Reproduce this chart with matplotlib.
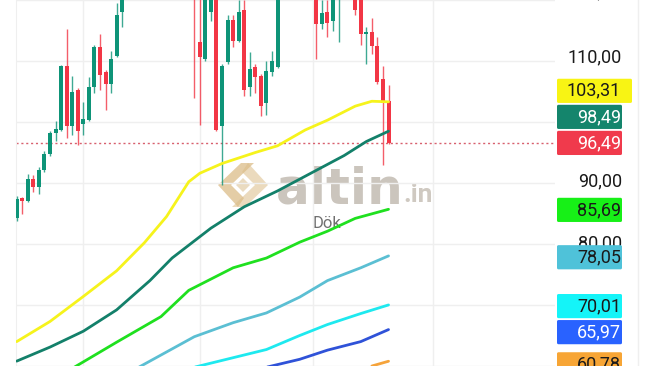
import numpy as np
import matplotlib.pyplot as plt
from matplotlib.patches import FancyBboxPatch, Polygon
from matplotlib.transforms import Affine2D

plt.rcParams['font.family'] = ['Roboto', 'DejaVu Sans']

# daily candles (index 0..67); many highs run off the top
opens = [84.2, 87.6, 87.1, 90.6, 89.4, 92.1, 94.7, 98.2, 98.7, 109.2,
         99.4, 105.3, 99.7, 100.3, 105.8, 112.3, 108.2, 106.3, 110.8, 118.1,
         121.5, 123.4, 125.2, 122.9, 126.8, 128.7, 127.1, 130.3, 128.0, 125.6,
         127.5, 124.4, 125.8, 113.1, 110.3, 118.1, 123.0, 99.4, 109.8, 116.8,
         113.2, 118.4, 105.8, 109.0, 107.6, 103.1, 108.2, 109.0, 121.0, 123.8,
         122.4, 125.5, 124.0, 122.1, 122.0, 116.0, 118.1, 116.5, 120.5, 122.0,
         124.1, 123.0, 121.0, 114.35, 114.8, 112.4, 107.1, 103.5]
highs = [87.8, 87.7, 91.5, 91.3, 92.6, 95.2, 98.5, 100.2, 109.3, 115.3,
         107.6, 105.5, 103.2, 107.4, 112.7, 114.5, 108.5, 111.6, 119.5, 122.5,
         124.2, 126.0, 126.5, 127.3, 129.5, 130.2, 131.0, 131.5, 129.0, 128.4,
         128.2, 126.9, 126.5, 121.0, 122.0, 122.0, 124.0, 109.5, 117.6, 117.6,
         120.0, 120.0, 111.5, 109.5, 107.9, 110.0, 111.6, 122.0, 124.5, 125.6,
         126.1, 127.0, 125.2, 124.3, 123.0, 120.0, 120.0, 122.0, 123.0, 124.8,
         125.0, 124.0, 122.0, 115.6, 117.1, 113.9, 109.2, 106.0]
lows = [83.7, 85.0, 86.9, 88.5, 88.2, 91.8, 94.5, 96.9, 98.5, 97.3,
        97.9, 96.3, 97.9, 100.2, 104.7, 105.3, 101.9, 104.7, 110.6, 115.5,
        120.6, 122.1, 121.8, 122.0, 125.1, 126.4, 126.0, 127.0, 124.5, 123.8,
        123.6, 122.7, 103.9, 99.5, 110.0, 116.5, 98.5, 89.7, 109.5, 112.3,
        113.1, 104.2, 104.2, 104.7, 101.0, 101.1, 107.6, 108.8, 120.2, 121.9,
        121.7, 123.3, 121.0, 120.4, 110.3, 115.2, 113.9, 115.0, 113.1, 121.2,
        120.9, 117.6, 112.7, 109.5, 111.1, 106.3, 92.9, 96.4]
closes = [87.4, 87.1, 90.6, 89.4, 92.1, 94.7, 98.2, 98.9, 109.2, 99.4,
          105.0, 98.6, 100.5, 105.8, 112.3, 107.7, 106.3, 110.3, 117.6, 121.5,
          123.4, 125.2, 122.9, 126.8, 128.7, 127.1, 130.3, 128.0, 125.6, 127.5,
          124.4, 125.8, 121.0, 110.7, 121.0, 121.3, 98.7, 109.2, 116.8, 113.2,
          118.1, 105.2, 108.7, 107.4, 102.7, 108.4, 110.0, 121.0, 123.8, 122.4,
          125.5, 124.0, 122.1, 123.6, 116.0, 117.9, 116.3, 121.0, 122.0, 124.1,
          121.6, 118.4, 114.35, 114.8, 112.4, 106.6, 103.1, 96.49]

# moving averages, points (candle index, price)
ma_yellow_x = [0, 6, 12, 18, 23, 27, 31, 33, 37, 43, 47, 52, 56, 61, 64, 67]
ma_yellow_y = [64.0, 67.3, 71.4, 75.6, 80.2, 84.5, 90.2, 91.6, 93.2, 95.0, 96.1, 98.7, 100.3, 102.6, 103.4, 103.31]
ma_teal_x = [0, 6, 12, 18, 24, 28, 31, 35, 41, 47, 53, 59, 63, 67]
ma_teal_y = [60.8, 63.1, 65.7, 69.2, 74.0, 77.7, 79.8, 82.6, 86.1, 88.7, 91.6, 94.5, 96.8, 98.49]
ma_green_x = [10, 18, 26, 31, 39, 45, 51, 56, 61, 67]
ma_green_y = [59.6, 63.9, 68.1, 72.4, 76.1, 77.7, 80.3, 82.1, 84.2, 85.69]
ma_lblue_x = [22, 32, 39, 45, 51, 56, 62, 67]
ma_lblue_y = [59.8, 64.8, 67.1, 68.7, 71.3, 74.0, 76.1, 78.05]
ma_cyan_x = [32, 45, 51, 56, 62, 67]
ma_cyan_y = [59.8, 62.7, 65.0, 66.8, 68.6, 70.01]
ma_blue_x = [45, 51, 56, 62, 67]
ma_blue_y = [59.8, 61.1, 62.6, 64.0, 65.97]
ma_orange_x = [64, 67]
ma_orange_y = [60.0, 60.78]

ma_colors = ['#f6f31c', '#13806a', '#1fe01f', '#5bbfd3', '#1ee9ef', '#2f52d8', '#f5a33a']
box_colors = ['#f8f414', '#14856c', '#f03a4c', '#17f017', '#4fc2d9', '#14f4f8', '#2962ff', '#f7a535']
box_text = ['#1a1a1a', 'white', 'white', '#1a1a1a', '#1a1a1a', '#1a1a1a', 'white', '#1a1a1a']
last_price = closes[-1]
label_values = [ma_yellow_y[-1], ma_teal_y[-1], last_price, ma_green_y[-1],
                ma_lblue_y[-1], ma_cyan_y[-1], ma_blue_y[-1], ma_orange_y[-1]]
price_ticks = [60, 70, 80, 90, 100, 110, 120]

up_col = '#0e9478'
dn_col = '#f23645'
grid_col = '#efefef'

W, H = 654, 366
fig = plt.figure(figsize=(W / 100, H / 100), dpi=100)
px = Affine2D().scale(1, -1).translate(0, H)  # top-left pixel coords -> display

ax = fig.add_axes([16 / W, 0, (555 - 16) / W, 1])
ymin, ymax = 60.16, 119.19
ax.set_ylim(ymin, ymax)
ax.set_xlim(-0.13, 97.0)
ax.set_xticks([12, 33, 53.4, 75])
ax.set_yticks(price_ticks)
ax.grid(True, color=grid_col, lw=1)
ax.tick_params(length=0, labelleft=False, labelbottom=False)
for s in ['top', 'right', 'bottom']:
    ax.spines[s].set_visible(False)
ax.spines['left'].set_color(grid_col)

# watermark
logo_col = '#dcbd88'
ax.add_patch(Polygon([(218, 185), (241, 163), (254, 163), (231, 185), (244, 198), (238, 207)],
                     closed=True, transform=px, color=logo_col, alpha=0.75, lw=0, zorder=1))
ax.add_patch(Polygon([(268, 185), (245, 207), (232, 207), (255, 185), (242, 172), (248, 163)],
                     closed=True, transform=px, color=logo_col, alpha=0.55, lw=0, zorder=1))
ax.add_patch(Polygon([(236, 185), (243, 178), (250, 185), (243, 192)],
                     closed=True, transform=px, color='#eadbc0', lw=0, zorder=1))
ax.text(276, 203, 'altin', transform=px, fontsize=36, fontweight='bold', color='#cbc5bd',
        family='DejaVu Sans', ha='left', va='baseline', zorder=1)
ax.text(403, 202, '.in', transform=px, fontsize=19, fontweight='bold', color='#cfc9c1',
        ha='left', va='baseline', zorder=1)
ax.text(327, 223, 'Dök', transform=px, fontsize=12, color='#707070', ha='center', va='center', zorder=1)

# candles
idx = np.arange(len(closes))
for i in idx:
    o, h, l, c = opens[i], highs[i], lows[i], closes[i]
    col = up_col if c >= o else dn_col
    ax.vlines(i, l, h, color=col, lw=1, alpha=0.8, zorder=3)
    ax.bar(i, max(abs(c - o), 0.15), bottom=min(o, c), width=0.72, color=col, lw=0, zorder=4)

ax.axhline(last_price, color='#d8606e', lw=1, ls=(0, (1.5, 2)), zorder=2)

ma_series = [(ma_yellow_x, ma_yellow_y), (ma_teal_x, ma_teal_y), (ma_green_x, ma_green_y),
             (ma_lblue_x, ma_lblue_y), (ma_cyan_x, ma_cyan_y), (ma_blue_x, ma_blue_y),
             (ma_orange_x, ma_orange_y)]
for (mx, my), col in zip(ma_series, ma_colors):
    ax.plot(mx, my, color=col, lw=2.0, solid_capstyle='round', solid_joinstyle='round', zorder=5)

# right price scale
lab = fig.add_axes([555 / W, 0, (W - 555) / W, 1])
lab.set_xlim(555, W)
lab.set_ylim(ymin, ymax)
lab.axis('off')
lab.axvline(638, color=grid_col, lw=1)
for t in price_ticks:
    ty = t + 0.5 if t == 120 else t
    lab.text(622, ty, f'{t},00', ha='right', va='center', fontsize=13, color='#1a1a1a', clip_on=False)

# value boxes, stacked upward where they would overlap
box_h = 4.2
shift = -0.35
order = np.argsort(label_values)
centers = {}
prev = None
for k in order:
    cy = label_values[k] + shift
    if prev is not None and cy < prev + box_h:
        cy = prev + box_h
    centers[k] = cy
    prev = cy
for k, v in enumerate(label_values):
    cy = centers[k]
    right = 632 if k == 0 else 622
    lab.add_patch(FancyBboxPatch((557, cy - box_h / 2 + 0.15), right - 557, box_h - 0.3,
                                 boxstyle='round,pad=0,rounding_size=1.5', mutation_aspect=1 / 6.2,
                                 fc=box_colors[k], ec='none', clip_on=False, zorder=3))
    lab.text(621, cy, f'{v:.2f}'.replace('.', ','), ha='right', va='center', fontsize=13,
             color=box_text[k], zorder=4, clip_on=False)

fig.savefig('out.png', dpi=100, facecolor='white')
